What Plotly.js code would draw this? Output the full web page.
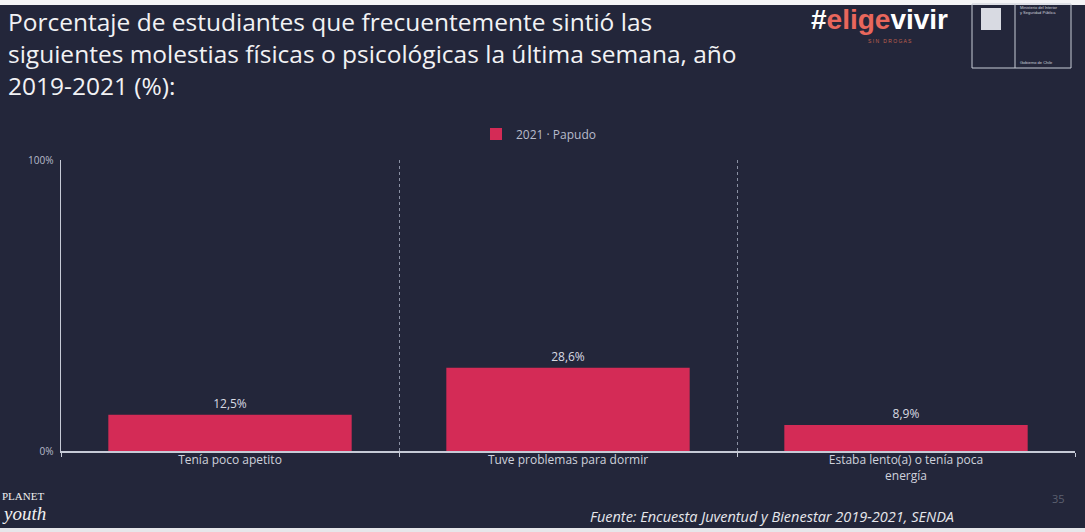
<!DOCTYPE html>
<html>
<head>
<meta charset="utf-8">
<script src="https://cdn.plot.ly/plotly-3.0.1.min.js"></script>
<style>
html,body{margin:0;padding:0;background:#23263a;}
#chart{width:1085px;height:532px;}
</style>
</head>
<body>
<div id="chart"></div>
<script>
const categories = [
  "Tenía poco apetito",
  "Tuve problemas para dormir",
  "Estaba lento(a) o tenía poca<br>energía"
];
const seriesName = "2021 · Papudo";
const values2021 = [12.5, 28.6, 8.9];
const yTickVals = [0, 100];
const yTickText = ["0%", "100%"];

const titleText = "Porcentaje de estudiantes que frecuentemente sintió las<br>siguientes molestias físicas o psicológicas la última semana, año<br>2019-2021 (%):";

const FONT = "Open Sans, Liberation Sans, sans-serif";

const trace = {
  type: "bar",
  name: seriesName,
  x: categories,
  y: values2021,
  marker: {color: "#d42b56"},
  text: values2021.map(v => v.toFixed(1).replace(".", ",") + "%"),
  texttemplate: "%{text}",
  textposition: "outside",
  cliponaxis: false,
  textfont: {family: FONT, size: 12, color: "#d8dae2"},
  hoverinfo: "skip"
};

// pixel -> paper coordinate helpers (plot area x 61..1075, y 160..451)
const py = p => (451 - p) / 291;
const px = p => (p - 61) / 1014;

const layout = {
  width: 1085,
  height: 532,
  paper_bgcolor: "#23263a",
  plot_bgcolor: "#23263a",
  margin: {l: 61, r: 10, t: 160, b: 81},
  bargap: 0.28,
  showlegend: true,
  legend: {
    orientation: "h",
    x: px(476), xanchor: "left",
    y: py(134), yanchor: "middle",
    font: {family: FONT, size: 12, color: "#b8bccb"},
    itemwidth: 30,
    bgcolor: "rgba(0,0,0,0)"
  },
  xaxis: {
    type: "category",
    tickson: "boundaries",
    ticks: "outside",
    ticklen: 4,
    tickcolor: "#c6cad6",
    showgrid: true,
    gridcolor: "#8a90a3",
    griddash: "dot",
    gridwidth: 1,
    showline: true,
    linecolor: "#c6cad6",
    linewidth: 1.5,
    ticklabelstandoff: -3,
    tickfont: {family: FONT, size: 12, color: "#cfd2dc"},
    fixedrange: true
  },
  yaxis: {
    range: [0, 100],
    tickvals: yTickVals,
    ticktext: yTickText,
    showgrid: false,
    zeroline: false,
    showline: true,
    linecolor: "#c6cad6",
    linewidth: 1.5,
    ticks: "",
    ticklabelstandoff: 4,
    tickfont: {family: FONT, size: 10, color: "#b8bccb"},
    fixedrange: true
  },
  annotations: [
    {xref: "paper", yref: "paper", x: px(6), y: py(3), xanchor: "left", yanchor: "top", showarrow: false,
     align: "left", text: titleText,
     font: {family: FONT, size: 24.5, color: "#f2f2f4"}},
    {xref: "paper", yref: "paper", x: px(809), y: py(20), xanchor: "left", yanchor: "middle", showarrow: false,
     text: "<b><span style='color:#ffffff'>#</span><span style='color:#e8675c'>elige</span><span style='color:#ffffff'>vivir</span></b>",
     font: {family: "Liberation Sans, Arial, sans-serif", size: 28}},
    {xref: "paper", yref: "paper", x: px(890), y: py(41), xanchor: "center", yanchor: "middle", showarrow: false,
     text: "S I N   D R O G A S", font: {family: "Liberation Sans, sans-serif", size: 5, color: "#c0604e"}},
    {xref: "paper", yref: "paper", x: px(1018), y: py(10), xanchor: "left", yanchor: "middle", showarrow: false,
     text: "Ministerio del Interior<br>y Seguridad Pública", align: "left",
     font: {family: "Liberation Sans, sans-serif", size: 4, color: "#cfd2dc"}},
    {xref: "paper", yref: "paper", x: px(1018), y: py(62), xanchor: "left", yanchor: "middle", showarrow: false,
     text: "Gobierno de Chile", font: {family: "Liberation Sans, sans-serif", size: 4, color: "#cfd2dc"}},
    {xref: "paper", yref: "paper", x: px(0), y: py(496), xanchor: "left", yanchor: "middle", showarrow: false,
     text: "PLANET", font: {family: "Liberation Serif, serif", size: 11, color: "#f0f0f0"}},
    {xref: "paper", yref: "paper", x: px(0), y: py(513), xanchor: "left", yanchor: "middle", showarrow: false,
     text: "<i>youth</i>", font: {family: "Liberation Serif, serif", size: 19, color: "#f0f0f0"}},
    {xref: "paper", yref: "paper", x: px(956), y: py(516), xanchor: "right", yanchor: "middle", showarrow: false,
     text: "<i>Fuente: Encuesta Juventud y Bienestar 2019-2021, SENDA</i>",
     font: {family: FONT, size: 14.5, color: "#e6e7ec"}},
    {xref: "paper", yref: "paper", x: px(1058), y: py(498), xanchor: "center", yanchor: "middle", showarrow: false,
     text: "35", font: {family: FONT, size: 11, color: "#5c6070"}}
  ],
  shapes: [
    {type: "rect", xref: "paper", yref: "paper", x0: px(0), x1: px(1085), y0: py(5), y1: py(0),
     line: {width: 0}, fillcolor: "#f4f4f6"},
    {type: "rect", xref: "paper", yref: "paper", x0: px(972), x1: px(1071), y0: py(68), y1: py(4),
     line: {color: "#c8ccd6", width: 1}, fillcolor: "rgba(0,0,0,0)"},
    {type: "line", xref: "paper", yref: "paper", x0: px(1015), x1: px(1015), y0: py(68), y1: py(4),
     line: {color: "#c8ccd6", width: 1}},
    {type: "rect", xref: "paper", yref: "paper", x0: px(981), x1: px(1001), y0: py(30), y1: py(8),
     line: {width: 0}, fillcolor: "#d8dae2"},
    {type: "rect", xref: "paper", yref: "paper", x0: px(0), x1: px(1085), y0: py(532), y1: py(528),
     line: {width: 0}, fillcolor: "#e6e6ea"}
  ]
};

Plotly.newPlot("chart", [trace], layout, {displayModeBar: false, staticPlot: true});
</script>
</body>
</html>
